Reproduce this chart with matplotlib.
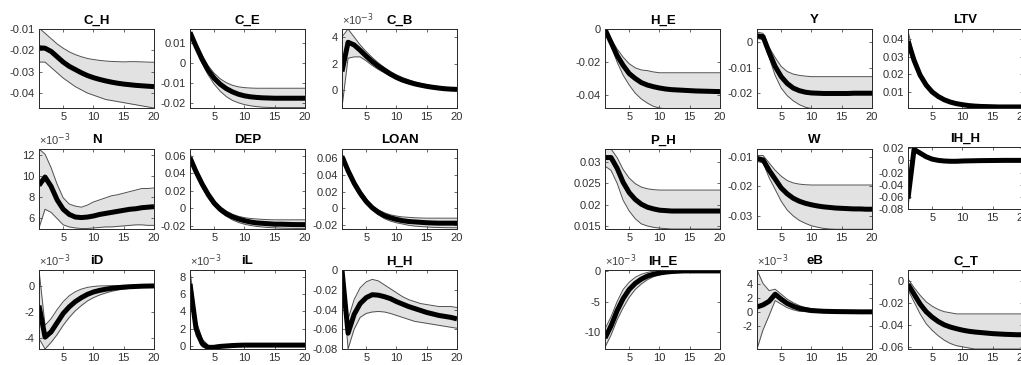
import numpy as np
import matplotlib.pyplot as plt
from matplotlib.ticker import FuncFormatter

plt.rcParams['font.family'] = ['Liberation Sans', 'DejaVu Sans']
plt.rcParams['axes.unicode_minus'] = False

periods = np.arange(1, 21)
xticks = [5, 10, 15, 20]

# ---- left block ----
ch_mid = [-0.0188, -0.019, -0.0205, -0.023, -0.0255, -0.0275, -0.029, -0.0305, -0.0318, -0.0328,
          -0.0336, -0.0343, -0.0349, -0.0354, -0.0358, -0.0361, -0.0364, -0.0366, -0.0368, -0.037]
ch_lo = [-0.0255, -0.0255, -0.028, -0.0305, -0.033, -0.035, -0.037, -0.0385, -0.040, -0.041,
         -0.042, -0.043, -0.0435, -0.044, -0.0445, -0.045, -0.0455, -0.046, -0.0465, -0.047]
ch_hi = [-0.0095, -0.012, -0.0145, -0.017, -0.019, -0.0207, -0.022, -0.023, -0.0238, -0.0243,
         -0.0247, -0.025, -0.0252, -0.0253, -0.0254, -0.0253, -0.0253, -0.0254, -0.0255, -0.0256]

ce_mid = [0.0155, 0.0085, 0.002, -0.0035, -0.0075, -0.0105, -0.0127, -0.0143, -0.0155, -0.0163,
          -0.0168, -0.0171, -0.0173, -0.0174, -0.0175, -0.0175, -0.0175, -0.0175, -0.0175, -0.0175]
ce_hi = [0.0165, 0.0100, 0.0040, -0.0012, -0.0050, -0.0078, -0.0097, -0.0110, -0.0118, -0.0122,
         -0.0124, -0.0125, -0.0125, -0.0125, -0.0125, -0.0125, -0.0125, -0.0125, -0.0125, -0.0125]
ce_lo = [0.0145, 0.0070, 0.0000, -0.0058, -0.0105, -0.0140, -0.0167, -0.0186, -0.0198, -0.0207,
         -0.0213, -0.0217, -0.0220, -0.0221, -0.0222, -0.0222, -0.0222, -0.0222, -0.0222, -0.0222]

# C_B, N, iD, iL read in units of 1e-3
cb_mid = np.array([1.4, 3.6, 3.4, 3.0, 2.55, 2.15, 1.8, 1.5, 1.2, 0.95,
                   0.75, 0.6, 0.47, 0.37, 0.28, 0.21, 0.15, 0.1, 0.07, 0.05]) * 1e-3
cb_hi = np.array([4.0, 4.6, 4.0, 3.4, 2.9, 2.45, 2.05, 1.7, 1.4, 1.15,
                  0.95, 0.78, 0.62, 0.5, 0.4, 0.32, 0.25, 0.2, 0.16, 0.13]) * 1e-3
cb_lo = np.array([-1.3, 2.4, 2.5, 2.5, 2.2, 1.85, 1.55, 1.3, 1.05, 0.85,
                  0.65, 0.5, 0.38, 0.28, 0.2, 0.14, 0.08, 0.04, 0.0, -0.02]) * 1e-3

n_mid = np.array([9.1, 9.9, 9.0, 7.7, 6.8, 6.3, 6.05, 6.0, 6.05, 6.15,
                  6.3, 6.4, 6.5, 6.6, 6.7, 6.8, 6.85, 6.95, 7.0, 7.05]) * 1e-3
n_hi = np.array([12.6, 12.1, 10.8, 9.2, 7.9, 7.3, 7.1, 7.0, 7.2, 7.5,
                 7.7, 7.9, 8.1, 8.2, 8.35, 8.5, 8.65, 8.8, 8.8, 8.85]) * 1e-3
n_lo = np.array([5.0, 6.8, 6.5, 5.9, 5.3, 5.1, 5.0, 4.95, 4.95, 5.0,
                 5.05, 5.1, 5.1, 5.15, 5.2, 5.25, 5.3, 5.3, 5.25, 5.25]) * 1e-3

dep_mid = [0.058, 0.042, 0.028, 0.016, 0.006, -0.001, -0.006, -0.0095, -0.012, -0.014,
           -0.0155, -0.0165, -0.017, -0.0175, -0.018, -0.018, -0.0182, -0.0184, -0.0185, -0.0185]
dep_hi = [0.063, 0.046, 0.032, 0.019, 0.009, 0.002, -0.003, -0.0065, -0.009, -0.0105,
          -0.0115, -0.012, -0.0125, -0.0128, -0.013, -0.013, -0.013, -0.013, -0.013, -0.013]
dep_lo = [0.054, 0.038, 0.024, 0.012, 0.003, -0.004, -0.009, -0.013, -0.016, -0.018,
          -0.0195, -0.0205, -0.0212, -0.0218, -0.0222, -0.0225, -0.0227, -0.0228, -0.023, -0.023]

loan_mid = [0.062, 0.045, 0.030, 0.018, 0.008, 0.0005, -0.005, -0.009, -0.0115, -0.0135,
            -0.015, -0.016, -0.0165, -0.017, -0.0175, -0.0178, -0.018, -0.018, -0.018, -0.018]
loan_hi = [0.066, 0.049, 0.034, 0.021, 0.011, 0.003, -0.002, -0.0055, -0.008, -0.0095,
           -0.0105, -0.011, -0.0115, -0.0118, -0.012, -0.012, -0.012, -0.012, -0.012, -0.012]
loan_lo = [0.058, 0.041, 0.026, 0.014, 0.005, -0.002, -0.008, -0.0125, -0.0155, -0.0175,
           -0.019, -0.0205, -0.0215, -0.022, -0.0225, -0.023, -0.0232, -0.0234, -0.0235, -0.0235]

id_mid = np.array([-1.5, -3.9, -3.5, -2.8, -2.1, -1.6, -1.2, -0.9, -0.65, -0.47,
                   -0.35, -0.26, -0.19, -0.14, -0.1, -0.07, -0.05, -0.03, -0.02, -0.01]) * 1e-3
id_hi = np.array([1.2, -3.0, -2.5, -1.8, -1.2, -0.75, -0.45, -0.25, -0.12, -0.05,
                  -0.01, 0.0, 0.01, 0.01, 0.01, 0.01, 0.01, 0.01, 0.01, 0.01]) * 1e-3
id_lo = np.array([-4.0, -4.8, -4.3, -3.7, -3.0, -2.4, -1.9, -1.5, -1.15, -0.9,
                  -0.7, -0.55, -0.42, -0.32, -0.25, -0.19, -0.14, -0.1, -0.07, -0.05]) * 1e-3

il_mid = np.array([7.2, 2.0, 0.3, -0.2, -0.15, -0.05, 0.0, 0.05, 0.08, 0.1,
                   0.1, 0.1, 0.1, 0.1, 0.1, 0.1, 0.1, 0.1, 0.1, 0.1]) * 1e-3
il_hi = np.array([8.8, 3.0, 0.8, 0.1, 0.05, 0.1, 0.15, 0.18, 0.2, 0.2,
                  0.2, 0.2, 0.2, 0.2, 0.2, 0.2, 0.2, 0.2, 0.2, 0.2]) * 1e-3
il_lo = np.array([6.0, 1.2, -0.1, -0.35, -0.3, -0.2, -0.12, -0.05, 0.0, 0.02,
                  0.03, 0.03, 0.03, 0.03, 0.03, 0.03, 0.03, 0.03, 0.03, 0.03]) * 1e-3

hh_mid = [0.0, -0.064, -0.045, -0.034, -0.028, -0.025, -0.0255, -0.027, -0.029, -0.032,
          -0.0345, -0.037, -0.039, -0.041, -0.043, -0.0445, -0.046, -0.047, -0.048, -0.0495]
hh_hi = [0.0, -0.05, -0.03, -0.018, -0.012, -0.0095, -0.011, -0.015, -0.019, -0.023,
         -0.027, -0.030, -0.032, -0.034, -0.035, -0.036, -0.037, -0.037, -0.037, -0.038]
hh_lo = [0.0, -0.08, -0.060, -0.048, -0.044, -0.0425, -0.042, -0.0425, -0.044, -0.046,
         -0.048, -0.050, -0.052, -0.053, -0.054, -0.055, -0.056, -0.057, -0.058, -0.059]

# ---- right block ----
he_mid = [0.0, -0.008, -0.016, -0.022, -0.027, -0.030, -0.0325, -0.034, -0.035, -0.0358,
          -0.0364, -0.0368, -0.037, -0.0372, -0.0374, -0.0376, -0.0377, -0.0378, -0.0379, -0.038]
he_hi = [0.0, -0.006, -0.012, -0.017, -0.021, -0.0235, -0.0248, -0.0252, -0.026, -0.0265,
         -0.0265, -0.0265, -0.0265, -0.0265, -0.0265, -0.0265, -0.0265, -0.0265, -0.0265, -0.0265]
he_lo = [0.0, -0.010, -0.020, -0.028, -0.034, -0.039, -0.0425, -0.045, -0.047, -0.048,
         -0.0485, -0.049, -0.049, -0.049, -0.049, -0.049, -0.049, -0.049, -0.049, -0.049]

y_mid = [0.0025, 0.0022, -0.004, -0.0095, -0.0135, -0.0162, -0.018, -0.019, -0.0196, -0.0199,
         -0.02, -0.0201, -0.0201, -0.0201, -0.0201, -0.0201, -0.02, -0.02, -0.02, -0.02]
y_hi = [0.004, 0.0035, -0.002, -0.006, -0.0095, -0.0115, -0.0125, -0.013, -0.0133, -0.0135,
        -0.0135, -0.0135, -0.0135, -0.0135, -0.0135, -0.0135, -0.0135, -0.0135, -0.0135, -0.0135]
y_lo = [0.0015, 0.001, -0.006, -0.013, -0.018, -0.021, -0.023, -0.0245, -0.0255, -0.026,
        -0.0265, -0.0265, -0.0265, -0.0265, -0.0265, -0.0265, -0.0265, -0.0265, -0.0265, -0.0265]

ltv_mid = [0.039, 0.028, 0.0195, 0.0138, 0.0098, 0.0072, 0.0053, 0.004, 0.0031, 0.0025,
           0.002, 0.0017, 0.0015, 0.0014, 0.0013, 0.0012, 0.0012, 0.0012, 0.0012, 0.0012]
ltv_hi = [0.045, 0.030, 0.021, 0.015, 0.0107, 0.0079, 0.0058, 0.0044, 0.0034, 0.0027,
          0.0022, 0.0019, 0.0017, 0.0016, 0.0015, 0.0014, 0.0014, 0.0014, 0.0014, 0.0014]
ltv_lo = [0.036, 0.026, 0.018, 0.0127, 0.009, 0.0065, 0.0048, 0.0036, 0.0028, 0.0022,
          0.0018, 0.0015, 0.0013, 0.0012, 0.0011, 0.001, 0.001, 0.001, 0.001, 0.001]

ph_mid = [0.031, 0.031, 0.0285, 0.0252, 0.0228, 0.0212, 0.0201, 0.0194, 0.019, 0.0187,
          0.0186, 0.0185, 0.0185, 0.0185, 0.0185, 0.0185, 0.0185, 0.0185, 0.0185, 0.0185]
ph_hi = [0.033, 0.033, 0.031, 0.0282, 0.0262, 0.0249, 0.0241, 0.0237, 0.0235, 0.0234,
         0.0234, 0.0234, 0.0234, 0.0234, 0.0234, 0.0234, 0.0234, 0.0234, 0.0234, 0.0234]
ph_lo = [0.029, 0.028, 0.025, 0.021, 0.0185, 0.0167, 0.0155, 0.015, 0.0147, 0.0145,
         0.0144, 0.0143, 0.0143, 0.0143, 0.0143, 0.0143, 0.0143, 0.0143, 0.0143, 0.0143]

w_mid = [-0.0105, -0.011, -0.0145, -0.0175, -0.0205, -0.0225, -0.024, -0.025, -0.0257, -0.0262,
         -0.0266, -0.0269, -0.0271, -0.0273, -0.0274, -0.0275, -0.0276, -0.0276, -0.0277, -0.0277]
w_hi = [-0.0095, -0.0095, -0.012, -0.0145, -0.0165, -0.018, -0.0188, -0.0192, -0.0194, -0.0195,
        -0.0195, -0.0195, -0.0195, -0.0195, -0.0195, -0.0195, -0.0195, -0.0195, -0.0195, -0.0195]
w_lo = [-0.0115, -0.012, -0.017, -0.021, -0.025, -0.028, -0.030, -0.0315, -0.0325, -0.0333,
        -0.0338, -0.0342, -0.0344, -0.0345, -0.0345, -0.0345, -0.0345, -0.0345, -0.0345, -0.0345]

ihh_mid = [-0.063, 0.018, 0.012, 0.006, 0.002, 0.0, -0.001, -0.0015, -0.0015, -0.001,
           -0.0008, -0.0006, -0.0004, -0.0003, -0.0002, -0.0001, 0.0, 0.0, 0.0, 0.0]
ihh_hi = [-0.05, 0.021, 0.015, 0.008, 0.004, 0.0015, 0.0003, -0.0002, -0.0003, 0.0,
          0.0002, 0.0003, 0.0004, 0.0004, 0.0004, 0.0004, 0.0004, 0.0004, 0.0004, 0.0004]
ihh_lo = [-0.078, 0.015, 0.009, 0.004, 0.0, -0.002, -0.0025, -0.003, -0.0028, -0.0023,
          -0.0019, -0.0015, -0.0012, -0.001, -0.0008, -0.0006, -0.0005, -0.0004, -0.0004, -0.0004]

ihe_mid = np.array([-11.0, -9.0, -6.5, -4.5, -3.0, -2.0, -1.3, -0.8, -0.5, -0.3,
                    -0.15, -0.05, 0.0, 0.05, 0.05, 0.05, 0.05, 0.05, 0.05, 0.05]) * 1e-3
ihe_hi = np.array([-9.5, -7.5, -5.0, -3.0, -1.8, -1.0, -0.5, -0.2, 0.0, 0.1,
                   0.15, 0.15, 0.15, 0.15, 0.15, 0.15, 0.15, 0.15, 0.15, 0.15]) * 1e-3
ihe_lo = np.array([-12.5, -10.5, -8.0, -6.0, -4.3, -3.0, -2.1, -1.4, -0.9, -0.6,
                   -0.4, -0.25, -0.15, -0.1, -0.05, 0.0, 0.0, 0.0, 0.0, 0.0]) * 1e-3

eb_mid = np.array([0.7, 1.0, 1.5, 2.5, 1.8, 1.2, 0.8, 0.5, 0.35, 0.2,
                   0.15, 0.1, 0.08, 0.06, 0.05, 0.04, 0.03, 0.02, 0.02, 0.02]) * 1e-3
eb_hi = np.array([5.9, 4.0, 3.0, 3.2, 2.5, 1.8, 1.3, 0.9, 0.6, 0.45,
                  0.35, 0.28, 0.22, 0.18, 0.15, 0.13, 0.12, 0.1, 0.1, 0.1]) * 1e-3
eb_lo = np.array([-5.2, -2.5, -0.5, 1.6, 1.1, 0.6, 0.3, 0.1, 0.05, -0.02,
                  -0.05, -0.07, -0.07, -0.07, -0.06, -0.06, -0.06, -0.06, -0.06, -0.06]) * 1e-3

ct_mid = [-0.003, -0.012, -0.021, -0.028, -0.033, -0.037, -0.040, -0.042, -0.0435, -0.0448,
          -0.0458, -0.0465, -0.047, -0.0475, -0.048, -0.0483, -0.0486, -0.0488, -0.049, -0.049]
ct_hi = [0.002, -0.006, -0.013, -0.019, -0.023, -0.026, -0.028, -0.029, -0.030, -0.030,
         -0.030, -0.030, -0.030, -0.030, -0.030, -0.030, -0.030, -0.030, -0.030, -0.030]
ct_lo = [-0.008, -0.019, -0.030, -0.039, -0.045, -0.050, -0.054, -0.057, -0.059, -0.060,
         -0.061, -0.062, -0.062, -0.062, -0.062, -0.062, -0.062, -0.062, -0.062, -0.062]

# title, series, ylim, yticks, shown as x10^-3, pixel box (left, top, width, height)
panels = [
    ("C_H", ch_mid, ch_lo, ch_hi, (-0.047, -0.01), [-0.04, -0.03, -0.02, -0.01], False, (39, 29, 115, 79)),
    ("C_E", ce_mid, ce_lo, ce_hi, (-0.0224, 0.0172), [-0.02, -0.01, 0, 0.01], False, (190, 29, 115, 79)),
    ("C_B", cb_mid, cb_lo, cb_hi, (-1.35e-3, 4.6e-3), [0, 2e-3, 4e-3], True, (342, 29, 115, 79)),
    ("N", n_mid, n_lo, n_hi, (4.9e-3, 12.6e-3), [6e-3, 8e-3, 10e-3, 12e-3], True, (39, 149, 115, 80)),
    ("DEP", dep_mid, dep_lo, dep_hi, (-0.0235, 0.068), [-0.02, 0, 0.02, 0.04, 0.06], False, (190, 149, 115, 80)),
    ("LOAN", loan_mid, loan_lo, loan_hi, (-0.025, 0.071), [-0.02, 0, 0.02, 0.04, 0.06], False, (342, 149, 115, 80)),
    ("iD", id_mid, id_lo, id_hi, (-4.8e-3, 1.2e-3), [-4e-3, -2e-3, 0], True, (39, 270, 115, 79)),
    ("iL", il_mid, il_lo, il_hi, (-0.35e-3, 8.8e-3), [0, 2e-3, 4e-3, 6e-3, 8e-3], True, (190, 270, 115, 79)),
    ("H_H", hh_mid, hh_lo, hh_hi, (-0.08, 0.0), [-0.08, -0.06, -0.04, -0.02, 0], False, (342, 270, 115, 79)),
    ("H_E", he_mid, he_lo, he_hi, (-0.048, 0.0002), [-0.04, -0.02, 0], False, (605, 29, 115, 79)),
    ("Y", y_mid, y_lo, y_hi, (-0.0258, 0.0052), [-0.02, -0.01, 0], False, (757, 29, 115, 79)),
    ("LTV", ltv_mid, ltv_lo, ltv_hi, (0.0006, 0.046), [0.01, 0.02, 0.03, 0.04], False, (908, 29, 115, 79)),
    ("P_H", ph_mid, ph_lo, ph_hi, (0.0143, 0.033), [0.015, 0.02, 0.025, 0.03], False, (605, 149, 115, 80)),
    ("W", w_mid, w_lo, w_hi, (-0.0344, -0.0073), [-0.03, -0.02, -0.01], False, (757, 149, 115, 80)),
    ("IH_H", ihh_mid, ihh_lo, ihh_hi, (-0.08, 0.022), [-0.08, -0.06, -0.04, -0.02, 0, 0.02], False, (908, 147, 115, 62)),
    ("IH_E", ihe_mid, ihe_lo, ihe_hi, (-12.8e-3, 0.2e-3), [-10e-3, -5e-3, 0], True, (605, 270, 115, 79)),
    ("eB", eb_mid, eb_lo, eb_hi, (-5.2e-3, 5.9e-3), [-2e-3, 0, 2e-3, 4e-3], True, (757, 270, 115, 79)),
    ("C_T", ct_mid, ct_lo, ct_hi, (-0.062, 0.01), [-0.06, -0.04, -0.02, 0], False, (908, 270, 115, 79)),
]

fmt_plain = FuncFormatter(lambda v, p: '{:g}'.format(round(v, 6)))
fmt_milli = FuncFormatter(lambda v, p: '{:g}'.format(round(v * 1e3, 6)))

W, H = 1021, 365
fig = plt.figure(figsize=(W / 100, H / 100), dpi=100)

for title, mid, lo, hi, ylim, yt, milli, (px, py, pw, ph) in panels:
    ax = fig.add_axes([px / W, 1 - (py + ph) / H, pw / W, ph / H])
    ax.fill_between(periods, lo, hi, color='#e2e2e2', lw=0)
    ax.plot(periods, lo, color='#505050', lw=0.7)
    ax.plot(periods, hi, color='#505050', lw=0.7)
    ax.plot(periods, mid, color='black', lw=3.6, solid_capstyle='butt')
    ax.set_xlim(1, 20)
    ax.set_xticks(xticks)
    ax.set_ylim(*ylim)
    ax.set_yticks(yt)
    ax.yaxis.set_major_formatter(fmt_milli if milli else fmt_plain)
    ax.tick_params(direction='in', length=2, width=0.5, top=True, right=True,
                   labelsize=8, colors='#303030', pad=3)
    for s in ax.spines.values():
        s.set_color('#262626')
        s.set_linewidth(0.7)
    if milli:
        ax.text(0, 1.01, '\u00d710$^{-3}$', transform=ax.transAxes, ha='left', va='bottom',
                fontsize=8, color='#404040')
    ax.set_title(title, fontsize=9.5, fontweight='bold', pad=4)

fig.savefig('out.png', dpi=100)
